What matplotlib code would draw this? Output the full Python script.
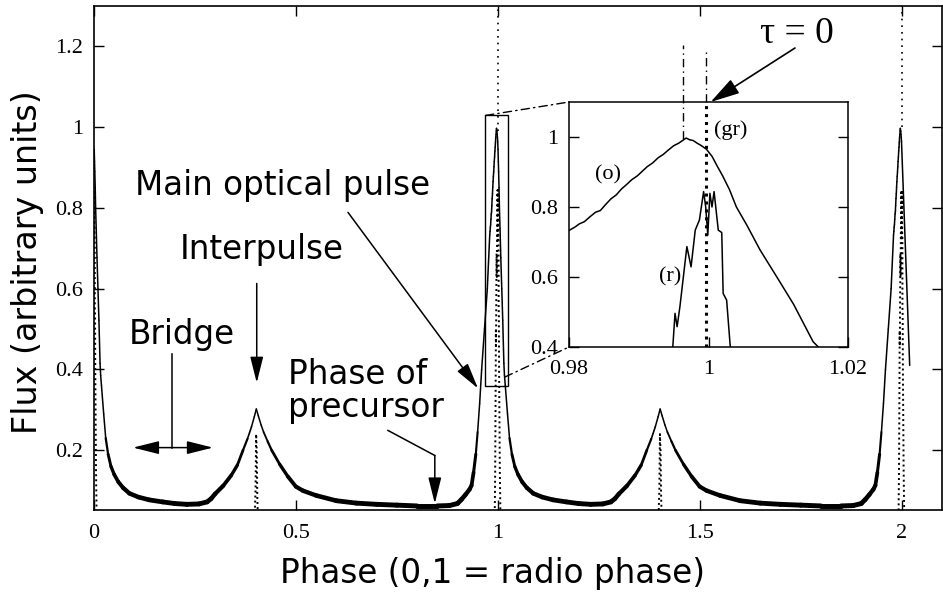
import numpy as np
import matplotlib
matplotlib.use("Agg")
import matplotlib.pyplot as plt
from matplotlib.patches import Rectangle, ConnectionPatch
from matplotlib.collections import LineCollection

# ---------------- data ----------------
# one period of the optical light curve, phase relative to the radio pulse
opt_phase = [0.0005, 0.0013, 0.0020, 0.0030, 0.0040, 0.0055, 0.0074, 0.0098,
             0.0122, 0.0150, 0.0165, 0.0185, 0.024, 0.029, 0.035, 0.042,
             0.050, 0.060, 0.072, 0.088, 0.110, 0.137, 0.170, 0.200, 0.230,
             0.260, 0.280, 0.290, 0.300, 0.320, 0.340, 0.355, 0.369, 0.380,
             0.390, 0.397, 0.402, 0.407, 0.414, 0.420, 0.430, 0.440, 0.460,
             0.480, 0.500, 0.517, 0.550, 0.600, 0.650, 0.700, 0.750, 0.800,
             0.850, 0.880, 0.900, 0.910, 0.920, 0.930, 0.935, 0.940, 0.9455,
             0.950, 0.955, 0.960, 0.967, 0.974,
             0.9800, 0.9808, 0.9815, 0.9822, 0.9830, 0.9838, 0.9845, 0.9852,
             0.9860, 0.9868, 0.9875, 0.9883, 0.9890, 0.9898, 0.9905, 0.9912,
             0.9920, 0.9928, 0.9935, 0.9942, 0.9950, 0.9957, 0.9963, 0.9968,
             0.9973, 0.9978, 0.9984, 0.9990, 0.9997]
opt_flux = [0.945, 0.915, 0.890, 0.850, 0.800, 0.748, 0.677, 0.600,
            0.522, 0.415, 0.385, 0.360, 0.290, 0.230, 0.190, 0.160,
            0.140, 0.122, 0.107, 0.093, 0.084, 0.077, 0.072, 0.068, 0.066,
            0.067, 0.072, 0.080, 0.092, 0.112, 0.138, 0.163, 0.200, 0.228,
            0.258, 0.283, 0.302, 0.285, 0.262, 0.245, 0.222, 0.200, 0.165,
            0.135, 0.110, 0.100, 0.088, 0.075, 0.069, 0.066, 0.064, 0.062,
            0.062, 0.063, 0.068, 0.078, 0.090, 0.103, 0.113, 0.145, 0.190,
            0.245, 0.315, 0.400, 0.500, 0.600,
            0.733, 0.742, 0.752, 0.758, 0.772, 0.785, 0.790, 0.806,
            0.823, 0.835, 0.851, 0.865, 0.878, 0.889, 0.902, 0.915,
            0.926, 0.941, 0.950, 0.962, 0.975, 0.982, 0.990, 0.997,
            0.992, 0.990, 0.982, 0.975, 0.965]
opt_end = (2.02, 0.41)          # last sample of the record

# radio profile: main pulse (phase relative to 0) and interpulse
radio_main_phase = [-0.0080, -0.0065, -0.0051, -0.0048, -0.0045, -0.0041,
                    -0.0031, -0.0025, -0.0019, -0.0013, -0.0007, -0.0004,
                    -0.0001, 0.0002, 0.0005, 0.0008, 0.0014, 0.0019, 0.0021,
                    0.0026, 0.0031, 0.0050, 0.0070]
radio_main_flux = [0.0, 0.15, 0.406, 0.496, 0.458, 0.515,
                   0.687, 0.629, 0.734, 0.763, 0.844, 0.800,
                   0.720, 0.839, 0.800, 0.844, 0.734, 0.727, 0.553,
                   0.534, 0.406, 0.15, 0.0]
radio_ip_phase = [0.397, 0.400, 0.4015, 0.403, 0.4045, 0.407]
radio_ip_flux = [0.0, 0.10, 0.24, 0.20, 0.08, 0.0]

xticks = [0, 0.5, 1, 1.5, 2]
xticklabels = ["0", "0.5", "1", "1.5", "2"]
yticks = [0.2, 0.4, 0.6, 0.8, 1.0, 1.2]
yticklabels = ["0.2", "0.4", "0.6", "0.8", "1", "1.2"]
in_xticks = [0.98, 1.0, 1.02]
in_xticklabels = ["0.98", "1", "1.02"]
in_yticks = [0.4, 0.6, 0.8, 1.0]
in_yticklabels = ["0.4", "0.6", "0.8", "1"]

# ---------------- build the plotted curves (two periods) ----------------
op = np.array(opt_phase)
of = np.array(opt_flux)
x_opt = np.concatenate([op, op + 1, [opt_end[0]]])
y_opt = np.concatenate([of, of, [opt_end[1]]])

rmp = np.array(radio_main_phase); rmf = np.array(radio_main_flux)
rip = np.array(radio_ip_phase); rif = np.array(radio_ip_flux)
x_rad = np.concatenate([rmp, rip, rmp + 1, rip + 1, rmp + 2])
y_rad = np.concatenate([rmf, rif, rmf, rif, rmf])

# ---------------- figure ----------------
plt.rcParams["font.family"] = ["DejaVu Sans"]
fig = plt.figure(figsize=(9.43, 5.94), dpi=100)
ax = fig.add_axes([94 / 943, 1 - 510 / 594, 848 / 943, 504 / 594])

ax.plot(x_rad, y_rad, color="k", lw=1.4, ls=(0, (1, 1.6)), zorder=2)
# optical curve: the photon noise makes the trace look thicker at low flux
pts = np.column_stack([x_opt, y_opt])
segs = np.stack([pts[:-1], pts[1:]], axis=1)
ymid = 0.5 * (y_opt[:-1] + y_opt[1:])
widths = np.clip(1.1 + 2.5 * (0.25 - ymid) / 0.19, 1.1, 3.6)
lc = LineCollection(segs, linewidths=widths, colors="k", capstyle="round",
                    joinstyle="round", zorder=3)
ax.add_collection(lc)
ax.plot([1, 1], [0.99, 1.3], color="k", lw=1.2, ls=(0, (1, 3)), zorder=2)
ax.plot([2, 2], [1.0, 1.3], color="k", lw=1.2, ls=(0, (1, 3)), zorder=2)

ax.set_xlim(0, 2.1)
ax.set_ylim(0.052, 1.3)
ax.set_xticks(xticks)
ax.set_xticklabels(xticklabels, fontfamily="Liberation Serif", fontsize=16)
ax.set_yticks(yticks)
ax.set_yticklabels(yticklabels, fontfamily="Liberation Serif", fontsize=16)
ax.tick_params(direction="in", length=7.5, width=1, top=True, right=True)
ax.tick_params(axis="x", pad=10)
ax.tick_params(axis="y", pad=8)
for s in ax.spines.values():
    s.set_linewidth(1.2)

ax.set_xlabel("Phase (0,1 = radio phase)", fontsize=23.5)
ax.xaxis.set_label_coords(0.4705, -0.093)
ax.set_ylabel("Flux (arbitrary units)", fontsize=24)
ax.yaxis.set_label_coords(-0.059, 0.492)

# zoom rectangle
ax.add_patch(Rectangle((0.9695, 0.358), 0.056, 0.671, fill=False,
                       lw=1.0, ec="k", zorder=4))

# annotations
fs = 23.5
arrow = dict(arrowstyle="-|>,head_length=0.8,head_width=0.2", color="k",
             lw=1.1, shrinkA=0, shrinkB=0, mutation_scale=20)
ax.text(0.1015, 0.831, "Main optical pulse", fontsize=fs, ha="left",
        va="baseline")
ax.annotate("", xy=(0.951, 0.353), xytext=(0.629, 0.789), arrowprops=arrow)
ax.text(0.213, 0.673, "Interpulse", fontsize=fs, ha="left", va="baseline")
ax.annotate("", xy=(0.403, 0.367), xytext=(0.403, 0.613), arrowprops=arrow)
ax.text(0.085, 0.464, "Bridge", fontsize=fs, ha="left", va="baseline")
ax.plot([0.194, 0.194], [0.439, 0.2065], color="k", lw=1.1)
ax.annotate("", xy=(0.0965, 0.2065), xytext=(0.2946, 0.2065),
            arrowprops=dict(arrow, arrowstyle="<|-|>,head_length=0.8,head_width=0.2"))
ax.text(0.481, 0.364, "Phase of", fontsize=fs, ha="left", va="baseline")
ax.text(0.481, 0.282, "precursor", fontsize=fs, ha="left", va="baseline")
ax.plot([0.728, 0.844], [0.249, 0.187], color="k", lw=1.1)
ax.annotate("", xy=(0.844, 0.068), xytext=(0.844, 0.187), arrowprops=arrow)

# ---------------- inset ----------------
axi = fig.add_axes([569 / 943, 1 - 347 / 594, 279 / 943, 245 / 594])
axi.set_facecolor("white")
axi.plot(x_opt, y_opt, color="k", lw=1.1)
axi.plot(x_rad, y_rad, color="k", lw=1.1)
axi.plot([0.9997, 0.9997], [0.4, 1.1], color="k", lw=2.2, ls=(0, (1, 1.6)))
dashdot = (0, (6, 3, 1, 3))
axi.plot([0.9963, 0.9963], [0.995, 1.263], color="k", lw=1.0, ls=dashdot,
         clip_on=False)
axi.plot([0.9997, 0.9997], [1.1, 1.254], color="k", lw=1.0, ls=dashdot,
         clip_on=False)
axi.set_xlim(0.98, 1.02)
axi.set_ylim(0.4, 1.1)
axi.set_xticks(in_xticks)
axi.set_xticklabels(in_xticklabels, fontfamily="Liberation Serif", fontsize=16)
axi.set_yticks(in_yticks)
axi.set_yticklabels(in_yticklabels, fontfamily="Liberation Serif", fontsize=16)
axi.tick_params(direction="in", length=7.5, width=1, right=True)
axi.tick_params(axis="x", pad=9)
axi.tick_params(axis="y", pad=8)
for s in axi.spines.values():
    s.set_linewidth(1.1)

serif = dict(fontfamily="Liberation Serif", fontsize=16, ha="center",
             va="center")
axi.text(0.9856, 0.891, "(o)", **serif)
axi.text(1.0032, 1.02, "(gr)", **serif)
axi.text(0.99448, 0.60, "(r)", **serif)

# connector lines
for xyA, xyB in [((0.9695, 1.029), (0.98, 1.1)), ((1.017, 0.381), (0.98, 0.4))]:
    con = ConnectionPatch(xyA=xyA, coordsA=ax.transData, xyB=xyB,
                          coordsB=axi.transData, ls=dashdot, lw=1.0, color="k")
    fig.add_artist(con)

# tau = 0
fig.text(760 / 943, 1 - 43 / 594, "τ = 0", fontfamily="Liberation Serif",
         fontsize=27, ha="left", va="baseline")
axi.annotate("", xy=(1.0003, 1.1), xycoords="data",
             xytext=(795 / 943, 1 - 48 / 594), textcoords="figure fraction",
             arrowprops=dict(arrowstyle="-|>,head_length=0.9,head_width=0.25",
                             color="k", lw=1.2, shrinkA=0, shrinkB=0,
                             mutation_scale=20), annotation_clip=False)

fig.savefig("out.png", dpi=100)
